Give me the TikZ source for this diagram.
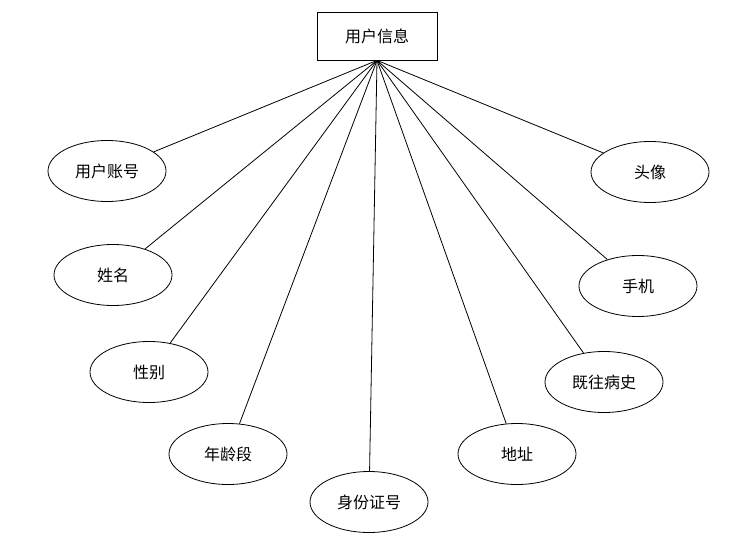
\documentclass[tikz,border=0pt]{standalone}
\usepackage{fontspec}
\newfontfamily\cjk{Noto Sans CJK SC}
\usetikzlibrary{shapes.geometric}
\tikzset{
  entity/.style={draw, line width=0.6pt, minimum width=90pt, minimum height=36pt, inner sep=0pt},
  attr/.style={draw, ellipse, line width=0.6pt, minimum width=88.5pt, minimum height=45.75pt, inner sep=0pt},
  link/.style={line width=0.6pt}
}
\begin{document}
\begin{tikzpicture}[x=0.75pt, y=-0.75pt, every node/.style={font=\cjk\fontsize{12}{14}\selectfont}]
    \useasboundingbox (0,0) rectangle (740,550);
    % entity
    \node[entity] (user) at (377,36) {用户信息};
    % attributes, left side
    \node[attr] (account) at (107,171) {用户账号};
    \node[attr] (name) at (113,275) {姓名};
    \node[attr] (gender) at (149,372) {性别};
    \node[attr] (age) at (228,454) {年龄段};
    \node[attr] (idcard) at (369,502) {身份证号};
    % attributes, right side
    \node[attr] (addr) at (517,454) {地址};
    \node[attr] (history) at (604,382) {既往病史};
    \node[attr] (phone) at (638,286) {手机};
    \node[attr] (avatar) at (650,172) {头像};
    % links
    \foreach \a in {account,name,gender,age,idcard,addr,history,phone,avatar}
        \draw[link] (user.south) -- (\a);
\end{tikzpicture}
\end{document}
